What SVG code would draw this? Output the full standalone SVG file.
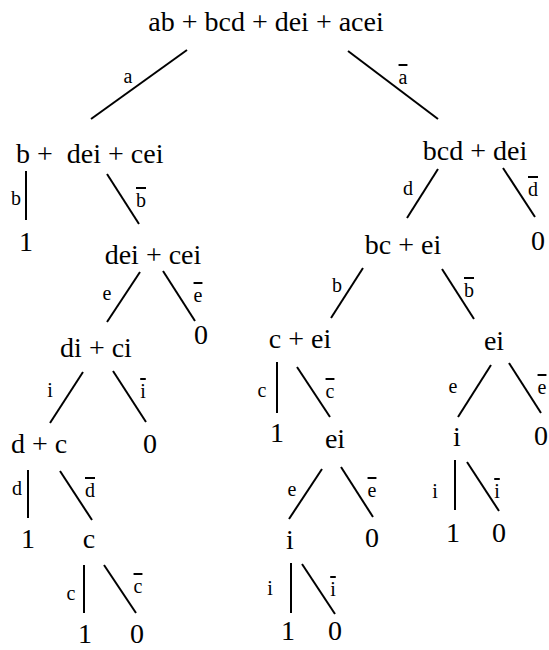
<svg xmlns="http://www.w3.org/2000/svg" width="549" height="650" viewBox="0 0 549 650" font-family="Liberation Serif, Times New Roman, serif">
<style>
.n{font-size:28px;fill:#000;white-space:pre;text-anchor:middle}
.s{text-anchor:start}
.l{font-size:20px;fill:#000;text-anchor:middle}
.o{text-decoration:overline}
#edges line{stroke:#000;stroke-width:2;fill:none}
</style>
<rect width="549" height="650" fill="#fff"/>
<g id="edges">
<line x1="187" y1="50" x2="91" y2="119"/><line x1="348" y1="51" x2="438" y2="119"/>
<line x1="26" y1="171" x2="26" y2="220"/><line x1="107" y1="174" x2="139" y2="224"/>
<line x1="140" y1="272" x2="107" y2="322"/><line x1="163" y1="271" x2="195" y2="321"/>
<line x1="83" y1="372" x2="50" y2="423"/><line x1="113" y1="371" x2="146" y2="422"/>
<line x1="28" y1="470" x2="28" y2="518"/><line x1="60" y1="471" x2="92" y2="520"/>
<line x1="84" y1="565" x2="84" y2="613"/><line x1="104" y1="565" x2="136" y2="613"/>
<line x1="438" y1="169" x2="407" y2="218"/><line x1="503" y1="168" x2="535" y2="217"/>
<line x1="363" y1="268" x2="331" y2="318"/><line x1="442" y1="269" x2="474" y2="319"/>
<line x1="277" y1="362" x2="277" y2="413"/><line x1="297" y1="367" x2="330" y2="417"/>
<line x1="491" y1="365" x2="458" y2="417"/><line x1="509" y1="363" x2="541" y2="413"/>
<line x1="322" y1="469" x2="289" y2="519"/><line x1="341" y1="467" x2="373" y2="517"/>
<line x1="291" y1="563" x2="291" y2="613"/><line x1="302" y1="564" x2="335" y2="614"/>
<line x1="455" y1="460" x2="455" y2="510"/><line x1="467" y1="462" x2="499" y2="511"/>
</g>
<g id="edge-labels">
<text class="l" x="128" y="83">a</text><text class="l o" x="403" y="84">a</text>
<text class="l" x="16" y="205">b</text><text class="l o" x="141" y="207">b</text>
<text class="l" x="107" y="300">e</text><text class="l o" x="198" y="302">e</text>
<text class="l" x="50" y="397">i</text><text class="l o" x="143" y="398">i</text>
<text class="l" x="17" y="495">d</text><text class="l o" x="90" y="497">d</text>
<text class="l" x="71" y="600">c</text><text class="l o" x="138" y="593">c</text>
<text class="l" x="408" y="195">d</text><text class="l o" x="533" y="196">d</text>
<text class="l" x="337" y="292">b</text><text class="l o" x="469" y="297">b</text>
<text class="l" x="262" y="397">c</text><text class="l o" x="330" y="398">c</text>
<text class="l" x="453" y="393">e</text><text class="l o" x="542" y="394">e</text>
<text class="l" x="292" y="496">e</text><text class="l o" x="372" y="497">e</text>
<text class="l" x="435" y="498">i</text><text class="l o" x="497" y="498">i</text>
<text class="l" x="270" y="595">i</text><text class="l o" x="333" y="596">i</text>
</g>
<g id="n-root"><text class="n" x="266" y="31">ab + bcd + dei + acei</text></g>
<g id="n-a"><text class="n s" x="16" y="163">b +  dei + cei</text></g>
<g id="n-a-b"><text class="n" x="26" y="251">1</text></g>
<g id="n-a-nb"><text class="n" x="153" y="264">dei + cei</text></g>
<g id="n-a-nb-ne"><text class="n" x="201" y="344">0</text></g>
<g id="n-a-nb-e"><text class="n" x="96" y="357">di + ci</text></g>
<g id="n-a-nb-e-i"><text class="n s" x="11" y="453">d + c</text></g>
<g id="n-a-nb-e-ni"><text class="n" x="150" y="453">0</text></g>
<g id="n-a-nb-e-i-d"><text class="n" x="28" y="548">1</text></g>
<g id="n-a-nb-e-i-nd"><text class="n" x="89" y="548">c</text></g>
<g id="n-a-nb-e-i-nd-c"><text class="n" x="85" y="643">1</text></g>
<g id="n-a-nb-e-i-nd-nc"><text class="n" x="137" y="643">0</text></g>
<g id="n-na"><text class="n" x="475" y="160">bcd + dei</text></g>
<g id="n-na-d"><text class="n" x="403" y="254">bc + ei</text></g>
<g id="n-na-nd"><text class="n" x="538" y="250">0</text></g>
<g id="n-na-d-b"><text class="n" x="300" y="348">c + ei</text></g>
<g id="n-na-d-nb"><text class="n" x="494" y="350">ei</text></g>
<g id="n-na-d-b-c"><text class="n" x="277" y="442">1</text></g>
<g id="n-na-d-b-nc"><text class="n" x="335" y="448">ei</text></g>
<g id="n-na-d-nb-e"><text class="n" x="457" y="446">i</text></g>
<g id="n-na-d-nb-ne"><text class="n" x="541" y="445">0</text></g>
<g id="n-na-d-b-nc-e"><text class="n" x="290" y="549">i</text></g>
<g id="n-na-d-b-nc-ne"><text class="n" x="372" y="547">0</text></g>
<g id="n-na-d-nb-e-i"><text class="n" x="453" y="542">1</text></g>
<g id="n-na-d-nb-e-ni"><text class="n" x="499" y="542">0</text></g>
<g id="n-na-d-b-nc-e-i"><text class="n" x="288" y="640">1</text></g>
<g id="n-na-d-b-nc-e-ni"><text class="n" x="335" y="640">0</text></g>
</svg>
